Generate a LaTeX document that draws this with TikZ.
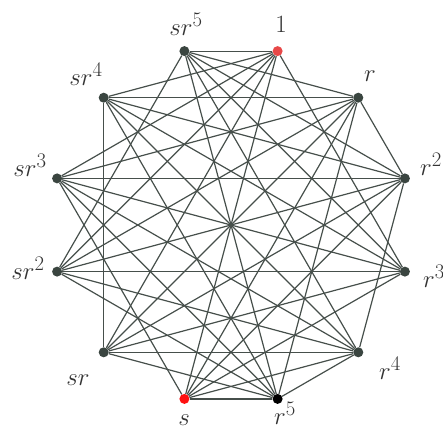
\documentclass[tikz,border=0pt]{standalone}
\pgfdeclarelayer{background}
\pgfsetlayers{background,main}
\definecolor{edgecol}{HTML}{464F4B}
\definecolor{dotcol}{HTML}{3A4540}
\definecolor{onecol}{HTML}{E84848}
\definecolor{scol}{HTML}{FF1010}
\tikzset{
  vdot/.style={circle,fill=dotcol,inner sep=0pt,minimum size=10pt},
  edge/.style={draw=edgecol,line width=1.2pt},
  lab/.style={inner sep=0pt,text=black!80,font=\Huge}
}
\begin{document}
\begin{tikzpicture}[x=1pt,y=-1pt]
\useasboundingbox (0,0) rectangle (443,429);
% vertices
\node[vdot,fill=onecol] (n1) at (277.6,51.1) {};
\node[vdot] (nr) at (358.3,97.7) {};
\node[vdot] (nr2) at (404.9,178.4) {};
\node[vdot] (nr3) at (404.9,271.6) {};
\node[vdot] (nr4) at (358.3,352.3) {};
\node[vdot,fill=black] (nr5) at (277.6,398.9) {};
\node[vdot,fill=scol] (ns) at (184.4,398.9) {};
\node[vdot] (nsr) at (103.7,352.3) {};
\node[vdot] (nsr2) at (57.1,271.6) {};
\node[vdot] (nsr3) at (57.1,178.4) {};
\node[vdot] (nsr4) at (103.7,97.7) {};
\node[vdot] (nsr5) at (184.4,51.1) {};
% labels
\node[lab] (l1) at (281,24) {$1$};
\node[lab] (lsr5) at (186,24) {$sr^5$};
\node[lab] (lsr4) at (86,74) {$sr^4$};
\node[lab] (lr) at (370,76) {$r$};
\node[lab] (lsr3) at (30,165) {$sr^3$};
\node[lab] (lr2) at (431,164) {$r^2$};
\node[lab] (lsr2) at (28,268) {$sr^2$};
\node[lab] (lr3) at (434,276) {$r^3$};
\node[lab] (lsr) at (78,380) {$sr$};
\node[lab] (lr4) at (390,368) {$r^4$};
\node[lab] (ls) at (184,420) {$s$};
\node[lab] (lr5) at (285,413) {$r^5$};
% edges
\begin{pgfonlayer}{background}
\foreach \a in {n1,nr,nr2,nr3,nr4,nr5}
  \foreach \b in {ns,nsr,nsr2,nsr3,nsr4,nsr5}
    \draw[edge] (\a) -- (\b);
\draw[edge] (n1) -- (nr3);
\draw[edge] (nr) -- (nr2);
\draw[edge] (nr) -- (nr5);
\draw[edge] (nr2) -- (nr4);
\draw[edge] (nr4) -- (nr5);
\draw[edge] (ns) -- (nsr3);
\draw[edge] (nsr) -- (nsr4);
\draw[edge] (nsr2) -- (nsr5);
\end{pgfonlayer}
\end{tikzpicture}
\end{document}
